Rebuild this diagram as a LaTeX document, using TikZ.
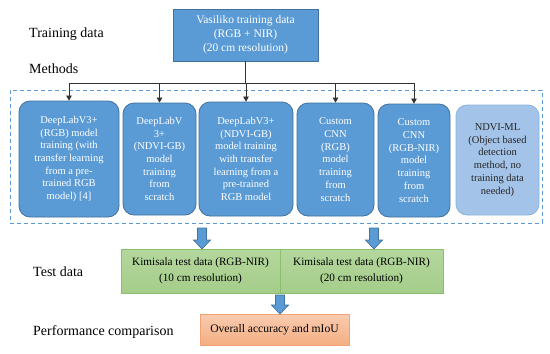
\documentclass[tikz,border=0pt]{standalone}
\usepackage{fontspec}
\setmainfont{Liberation Serif}
\usetikzlibrary{arrows.meta}
\definecolor{mblue}{HTML}{5B9BD5}
\definecolor{mblueb}{HTML}{41719C}
\definecolor{lblue}{HTML}{A3C3E8}
\definecolor{lblueb}{HTML}{8CB3DE}
\definecolor{gtop}{HTML}{B4D79D}
\definecolor{gbot}{HTML}{A5CD8A}
\definecolor{gbord}{HTML}{8CBF6C}
\definecolor{otop}{HTML}{F9CCB0}
\definecolor{obot}{HTML}{F4AE82}
\definecolor{obord}{HTML}{F2A274}
\definecolor{dashc}{HTML}{5B9BD5}
\tikzset{
  topbox/.style={draw=mblueb, fill=mblue, line width=0.8pt, text=white, align=center,
    font=\fontsize{11.5}{14}\selectfont, inner sep=0pt},
  mbox/.style={draw=mblueb, fill=mblue, line width=0.8pt, text=white, align=center,
    rounded corners=11pt, font=\fontsize{10.5}{12.7}\selectfont, inner sep=0pt},
  lbox/.style={draw=lblueb, fill=lblue, line width=0.8pt, text=black!85, align=center,
    rounded corners=11pt, font=\fontsize{10.5}{12.7}\selectfont, inner sep=0pt},
  gbox/.style={draw=gbord, top color=gtop, bottom color=gbot, line width=0.8pt, align=center,
    font=\fontsize{11.2}{15.6}\selectfont, inner sep=0pt},
  obox/.style={draw=obord, top color=otop, bottom color=obot, line width=0.8pt, align=center,
    font=\fontsize{11.6}{14}\selectfont, inner sep=0pt},
  rowlabel/.style={anchor=base west, font=\fontsize{14}{16}\selectfont, inner sep=0pt},
  conn/.style={draw=black!80, line width=0.7pt},
  connarr/.style={conn, -{Triangle[length=5pt,width=5.5pt]}},
  bigarrow/.style={draw=mblueb, fill=mblue, line width=0.7pt, line join=miter},
}
\newcommand\bigarr[3]{\draw[bigarrow] (#1-4.5,#2) -- (#1+4.5,#2) -- (#1+4.5,#3-9) -- (#1+8.5,#3-9) -- (#1,#3) -- (#1-8.5,#3-9) -- (#1-4.5,#3-9) -- cycle;}
\begin{document}
\begin{tikzpicture}[x=1pt,y=-1pt]
\useasboundingbox (0,0) rectangle (550,354);
\fill[white] (0,0) rectangle (550,354);

% row labels
\node[rowlabel] (lt) at (29,37) {Training data};
\node[rowlabel] (lm) at (29,73) {Methods};
\node[rowlabel] (ltd) at (33,276) {Test data};
\node[rowlabel] (lp) at (33,335) {Performance comparison};

% top box
\node[topbox, minimum width=145pt, minimum height=52pt] (top) at (245.5,35)
  {Vasiliko training data\\(RGB + NIR)\\(20 cm resolution)};

% dashed frame
\node[draw=dashc, dashed, dash pattern=on 4pt off 3pt, line width=0.8pt, minimum width=532pt, minimum height=133pt, inner sep=0pt] (frame) at (276,156.5) {};

% method boxes
\node[mbox, minimum width=100pt, minimum height=116pt] (b1) at (69,159)
  {DeepLabV3+\\(RGB) model\\training (with\\transfer learning\\from a pre-\\trained RGB\\model) [4]};
\node[mbox, minimum width=73pt, minimum height=112pt] (b2) at (159.5,159)
  {DeepLabV\\3+\\(NDVI-GB)\\model\\training\\from\\scratch};
\node[mbox, minimum width=94pt, minimum height=114pt] (b3) at (246,159)
  {DeepLabV3+\\(NDVI-GB)\\model training\\with transfer\\learning from a\\pre-trained\\RGB model};
\node[mbox, minimum width=77pt, minimum height=113pt] (b4) at (335.5,159.5)
  {Custom\\CNN\\(RGB)\\model\\training\\from\\scratch};
\node[mbox, minimum width=72pt, minimum height=113pt] (b5) at (414,160.5)
  {Custom\\CNN\\(RGB-NIR)\\model\\training\\from\\scratch};
\node[lbox, minimum width=83pt, minimum height=110pt] (b6) at (497.5,160)
  {NDVI-ML\\(Object based\\detection\\method, no\\training data\\needed)};

% connectors
\coordinate (bus) at (246,83);
\draw[conn] (top.south) -- (top.south |- bus);
\draw[conn] (b1.north |- bus) -- (b5.north |- bus);
\foreach \b in {b1,b2,b3,b4,b5}
  \draw[connarr] (\b.north |- bus) -- (\b.north);

% test data boxes
\node[gbox, minimum width=159pt, minimum height=44pt] (g1) at (200.5,271)
  {Kimisala test data (RGB-NIR)\\(10 cm resolution)};
\node[gbox, minimum width=163pt, minimum height=44pt] (g2) at (361.5,271)
  {Kimisala test data (RGB-NIR)\\(20 cm resolution)};

% performance box
\node[obox, minimum width=149pt, minimum height=31pt] (perf) at (274.5,329.5)
  {Overall accuracy and mIoU};

% big arrows
\bigarr{202}{228}{249}
\bigarr{374}{228}{249}
\bigarr{280}{295}{314}
\end{tikzpicture}
\end{document}
